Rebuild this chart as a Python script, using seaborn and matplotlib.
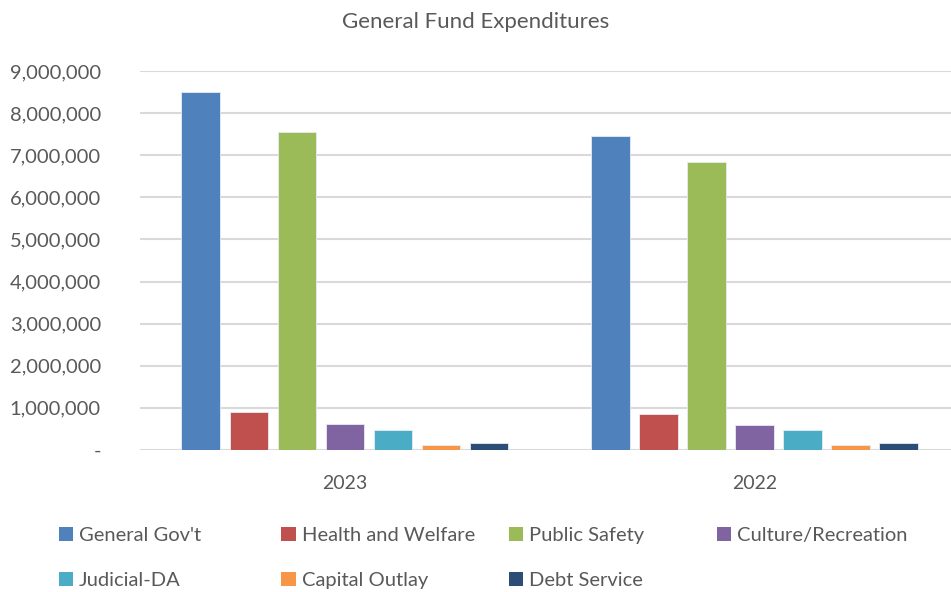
import matplotlib
matplotlib.use("Agg")
import matplotlib.pyplot as plt
import seaborn as sns
import pandas as pd
from matplotlib.ticker import FuncFormatter
from matplotlib.patches import Patch

years = ["2023", "2022"]
categories = ["General Gov't", "Health and Welfare", "Public Safety", "Culture/Recreation",
              "Judicial-DA", "Capital Outlay", "Debt Service"]
values_2023 = [8500000, 890000, 7550000, 620000, 470000, 110000, 170000]
values_2022 = [7460000, 860000, 6830000, 600000, 470000, 110000, 170000]
colors = ["#4F81BD", "#C0504D", "#9BBB59", "#8064A2", "#4BACC6", "#F79646", "#2C4D75"]

rows = []
for y, vals in zip(years, [values_2023, values_2022]):
    for c, v in zip(categories, vals):
        rows.append({"Year": y, "Category": c, "Value": v})
df = pd.DataFrame(rows)

sns.set_theme(style="white")
plt.rcParams['font.family'] = ['Lato', 'DejaVu Sans']
text_color = "#595959"

fig = plt.figure(figsize=(9.51, 5.92), dpi=100)
ax = fig.add_axes([0.147, 0.24, 0.862, 0.64])

sns.barplot(data=df, x="Year", y="Value", hue="Category", hue_order=categories,
            order=years, palette=colors, saturation=1, width=0.82, gap=0.2, ax=ax,
            edgecolor="#E6ECF5", linewidth=0.6, legend=False, zorder=3)

ax.set_ylim(0, 9000000)
ax.set_xlim(-0.5, 1.5)
ax.set_yticks(range(0, 9000001, 1000000))
ax.yaxis.set_major_formatter(FuncFormatter(lambda v, p: "-" if v == 0 else f"{int(v):,}"))
ax.grid(axis="y", color="#D9D9D9", linewidth=1.5, zorder=0)
ax.set_axisbelow(True)
for s in ax.spines.values():
    s.set_visible(False)
ax.tick_params(axis="y", labelsize=14.5, colors=text_color, length=0, pad=28)
ax.tick_params(axis="x", labelsize=14, colors=text_color, length=0, pad=18)
ax.set_xlabel("")
ax.set_ylabel("")

fig.text(0.5, 0.963, "General Fund Expenditures", ha="center", va="center",
         fontsize=16, color=text_color)

handles = [Patch(facecolor=c, edgecolor="none") for c in colors]
columns = [[0, 4], [1, 5], [2, 6], [3]]
col_x = [0.062, 0.296, 0.535, 0.754]
for cx, idx in zip(col_x, columns):
    leg = fig.legend([handles[i] for i in idx], [categories[i] for i in idx],
                     ncol=1, loc="upper left", bbox_to_anchor=(cx, 0.11),
                     frameon=False, fontsize=14.5, handlelength=0.7, handleheight=0.7,
                     handletextpad=0.3, labelspacing=1.4, labelcolor=text_color,
                     borderpad=0, borderaxespad=0)

fig.savefig("out.png", dpi=100)
